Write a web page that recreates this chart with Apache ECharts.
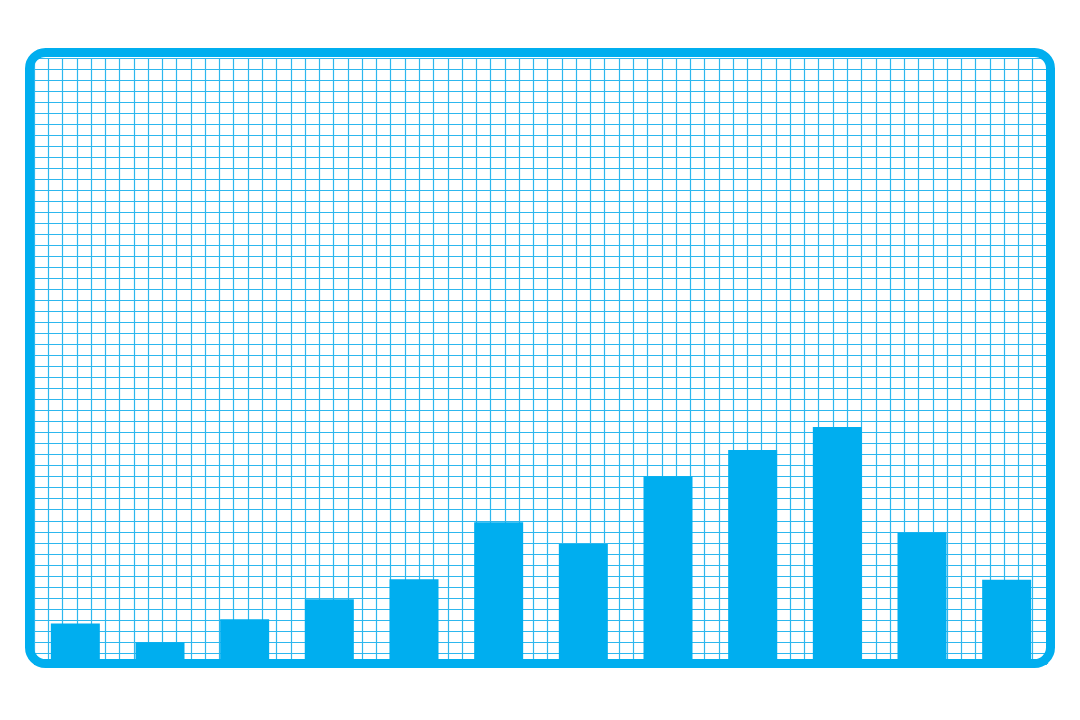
<!DOCTYPE html>
<html>
<head>
<meta charset="utf-8">
<title>Bar chart on graph paper</title>
<script src="https://cdn.jsdelivr.net/npm/echarts@6/dist/echarts.min.js"></script>
<style>
  html, body { margin: 0; padding: 0; background: #ffffff; }
  #chartArea { width: 1080px; height: 720px; }
</style>
</head>
<body>
<div id="chartArea"></div>
<script>
// data (scale: 0..100 = full height of the paper)
const categories = ['1', '2', '3', '4', '5', '6', '7', '8', '9', '10', '11', '12'];
const barValues = [6.7, 3.6, 7.4, 10.7, 14.0, 23.4, 19.8, 31.0, 35.3, 39.1, 21.7, 13.9];
const yMax = 100;

// graph paper: number of cells across and down
const paperCols = 71;
const paperRows = 55;

const blue = '#00aeef';
const paperLine = '#2db7ee';

const chartDom = document.getElementById('chartArea');
let myChart = echarts.init(chartDom);
let option;

option = {
  animation: false,
  backgroundColor: '#ffffff',
  grid: [
    // bars
    { left: 33, right: 31, top: 58, bottom: 56 },
    // graph paper
    { left: 34, right: 33, top: 58, bottom: 56 }
  ],
  xAxis: [
    {
      type: 'category',
      gridIndex: 0,
      data: categories,
      axisLine: { show: false },
      axisTick: { show: false },
      axisLabel: { show: false },
      splitLine: { show: false }
    },
    {
      type: 'value',
      gridIndex: 1,
      min: 0,
      max: paperCols,
      interval: 1,
      axisLine: { show: false },
      axisTick: { show: false },
      axisLabel: { show: false },
      splitLine: { show: true, lineStyle: { color: paperLine, width: 1.2 } }
    }
  ],
  yAxis: [
    {
      type: 'value',
      gridIndex: 0,
      min: 0,
      max: yMax,
      axisLine: { show: false },
      axisTick: { show: false },
      axisLabel: { show: false },
      splitLine: { show: false }
    },
    {
      type: 'value',
      gridIndex: 1,
      min: 0,
      max: paperRows,
      interval: 1,
      axisLine: { show: false },
      axisTick: { show: false },
      axisLabel: { show: false },
      splitLine: { show: true, lineStyle: { color: paperLine, width: 1.2 } }
    }
  ],
  series: [
    {
      type: 'bar',
      xAxisIndex: 0,
      yAxisIndex: 0,
      data: barValues,
      barWidth: 49,
      z: 5,
      itemStyle: { color: blue }
    }
  ],
  graphic: [
    {
      // rounded frame round the paper
      type: 'rect',
      z: 100,
      silent: true,
      shape: { x: 29.5, y: 52.5, width: 1021, height: 611, r: 16 },
      style: { fill: 'none', stroke: blue, lineWidth: 9 }
    }
  ]
};

option && myChart.setOption(option);
</script>
</body>
</html>
